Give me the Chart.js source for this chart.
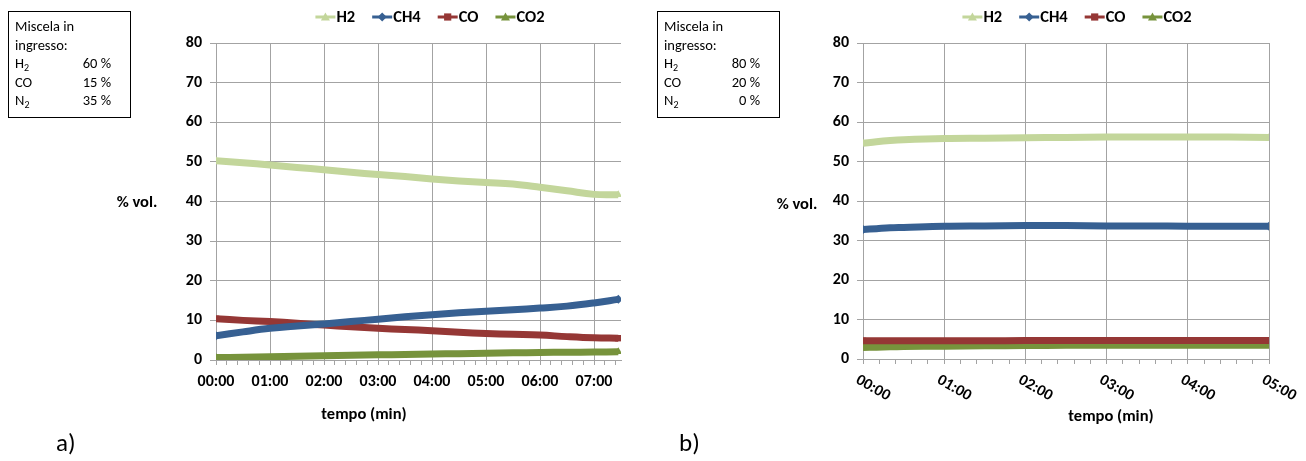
<!DOCTYPE html>
<html><head><meta charset="utf-8">
<script src="https://cdn.jsdelivr.net/npm/chart.js@4.4.1/dist/chart.umd.min.js"></script>
<style>
html,body{margin:0;padding:0;background:#fff;width:1306px;height:461px;overflow:hidden;}
body{position:relative;font-family:Carlito,Lato,sans-serif;color:#000;}
#ca{position:absolute;left:0;top:0;}
#cb{position:absolute;left:650px;top:0;}
.box{position:absolute;top:11px;width:121px;height:105px;border:1px solid #000;font-size:14.5px;line-height:18.5px;}
.box .in{position:absolute;left:6px;top:5px;right:0;}
.row{position:relative;height:18.5px;white-space:nowrap;}
.row .v{position:absolute;right:19px;top:0;}
sub{font-size:10px;vertical-align:-3px;line-height:0;}
.lab{position:absolute;top:428px;font-size:25px;line-height:30px;}
</style></head>
<body>
<canvas id="ca" width="650" height="461"></canvas>
<canvas id="cb" width="656" height="461"></canvas>
<div class="box" style="left:8px"><div class="in">
<div class="row">Miscela in</div>
<div class="row">ingresso:</div>
<div class="row">H<sub>2</sub><span class="v">60 %</span></div>
<div class="row">CO<span class="v">15 %</span></div>
<div class="row">N<sub>2</sub><span class="v">35 %</span></div>
</div></div>
<div class="box" style="left:657px"><div class="in">
<div class="row">Miscela in</div>
<div class="row">ingresso:</div>
<div class="row">H<sub>2</sub><span class="v">80 %</span></div>
<div class="row">CO<span class="v">20 %</span></div>
<div class="row">N<sub>2</sub><span class="v">0 %</span></div>
</div></div>
<div class="lab" style="left:56px">a)</div>
<div class="lab" style="left:679px">b)</div>
<script>
// ---- data (time in seconds) ----
const seriesNames = ['H2','CH4','CO','CO2'];
const tickLabelsA = ['00:00','01:00','02:00','03:00','04:00','05:00','06:00','07:00'];
const tickLabelsB = ['00:00','01:00','02:00','03:00','04:00','05:00'];
const timeA = [0,30,60,90,120,150,180,210,240,270,300,330,360,390,420,447];
const h2A  = [50.3,49.8,49.2,48.6,48.0,47.4,46.8,46.3,45.7,45.2,44.8,44.4,43.6,42.7,41.8,41.7];
const ch4A = [6.1,7.1,8.0,8.6,9.1,9.7,10.3,10.9,11.4,11.9,12.3,12.7,13.1,13.6,14.4,15.3];
const coA  = [10.4,10.0,9.7,9.3,8.8,8.4,8.0,7.7,7.4,7.0,6.7,6.5,6.3,5.9,5.6,5.5];
const co2A = [0.6,0.7,0.8,0.95,1.1,1.2,1.3,1.4,1.5,1.6,1.7,1.8,1.9,1.95,2.0,2.1];
const timeB = [0,10,20,30,60,90,120,150,180,210,240,270,300];
const h2B  = [54.6,55.0,55.3,55.5,55.8,55.9,56.0,56.1,56.2,56.2,56.2,56.2,56.1];
const ch4B = [32.8,33.0,33.2,33.3,33.6,33.7,33.8,33.8,33.7,33.7,33.6,33.6,33.6];
const coB  = [4.6,4.6,4.6,4.6,4.6,4.6,4.7,4.7,4.7,4.7,4.7,4.7,4.7];
const co2B = [2.9,3.0,3.1,3.15,3.25,3.35,3.4,3.45,3.5,3.5,3.5,3.5,3.5];

const COLORS = ['#C3D69B','#376092','#953735','#77933C'];
const MARKERS = ['triangle','rectRot','rect','triangle'];
const GRID = '#a3a3a3';
const FONT = 'Carlito, Lato, sans-serif';
const BOLD = {family:FONT, size:16, weight:'bold'};

function makeDatasets(time, arrs){
  return arrs.map((arr,i)=>({
    label: seriesNames[i],
    data: time.map((t,k)=>({x:t,y:arr[k]})),
    borderColor: COLORS[i],
    backgroundColor: COLORS[i],
    borderWidth: 7,
    tension: 0.4,
    pointStyle: MARKERS[i],
    pointRadius: c => (c.dataIndex===0 || c.dataIndex===time.length-1) ? 4.5 : 0,
    pointBorderWidth: 0,
    pointBackgroundColor: COLORS[i],
    pointHoverRadius: 0
  }));
}

function drawMarker(ctx, style, x, y, r){
  ctx.beginPath();
  if(style==='triangle'){
    ctx.moveTo(x, y-r); ctx.lineTo(x+r, y+r*0.75); ctx.lineTo(x-r, y+r*0.75);
  } else if(style==='rectRot'){
    ctx.moveTo(x, y-r); ctx.lineTo(x+r, y); ctx.lineTo(x, y+r); ctx.lineTo(x-r, y);
  } else {
    ctx.rect(x-r*0.8, y-r*0.8, r*1.6, r*1.6);
  }
  ctx.closePath(); ctx.fill();
}

const deco = {
  id:'deco',
  afterDraw(chart, args, o){
    const ctx = chart.ctx, xs = chart.scales.x;
    ctx.save();
    ctx.fillStyle = '#000';
    ctx.font = 'bold 16.5px '+FONT;
    ctx.textAlign = 'center'; ctx.textBaseline = 'middle';
    ctx.fillText(o.yTitle, o.yTitleX, o.yTitleY);
    ctx.fillText(o.xTitle, o.xTitleX, o.xTitleY);
    if(o.rotLabels){
      ctx.font = 'bold 16px '+FONT;
      ctx.textAlign = 'left'; ctx.textBaseline = 'top';
      o.rotLabels.forEach((lab,i)=>{
        const x = xs.getPixelForValue(i*60);
        ctx.save();
        ctx.translate(x-2, xs.top + o.rotOffset);
        ctx.rotate(o.rotAngle*Math.PI/180);
        ctx.fillText(lab, 0, 0);
        ctx.restore();
      });
    }
    // legend
    ctx.font = 'bold 16.5px '+FONT;
    const ds = chart.data.datasets;
    ctx.textAlign = 'left'; ctx.textBaseline = 'middle';
    const widths = ds.map(d => 21 + ctx.measureText(d.label).width);
    const gap = 17;
    const total = widths.reduce((a,b)=>a+b,0) + gap*(ds.length-1);
    let x = o.legendCX - total/2;
    const y = o.legendY;
    ds.forEach((d,i)=>{
      ctx.strokeStyle = d.borderColor; ctx.lineWidth = 3;
      ctx.beginPath(); ctx.moveTo(x, y); ctx.lineTo(x+20, y); ctx.stroke();
      ctx.fillStyle = d.borderColor;
      drawMarker(ctx, d.pointStyle, x+10, y, 4.5);
      ctx.fillStyle = '#000';
      ctx.fillText(d.label, x+21, y+1);
      x += widths[i] + gap;
    });
    ctx.restore();
  }
};

function makeChart(id, time, arrs, xmax, labels, rotated, pad, yW, xH, decoOpts){
  return new Chart(document.getElementById(id), {
    type:'line',
    data:{ datasets: makeDatasets(time, arrs) },
    options:{
      responsive:false, animation:false, devicePixelRatio:1,
      layout:{ padding: pad },
      plugins:{ legend:{display:false}, tooltip:{enabled:false}, deco: decoOpts },
      scales:{
        x:{
          type:'linear', min:0, max:xmax,
          afterFit: s => { s.height = xH; },
          border:{ color: GRID, width:1 },
          grid:{
            color: c => (c.tick && c.tick.value % 60 === 0) ? GRID : 'rgba(0,0,0,0)',
            tickColor: GRID, tickLength:5, lineWidth:1
          },
          ticks:{
            stepSize:12, includeBounds:false, autoSkip:false, maxRotation:0, minRotation:0,
            padding:7, color:'#000', font: BOLD,
            callback: v => rotated ? '' : (v % 60 === 0 ? labels[v/60] : '')
          }
        },
        y:{
          min:0, max:80,
          afterFit: s => { s.width = yW; },
          border:{ color: GRID, width:1 },
          grid:{ color: GRID, tickLength:6, lineWidth:1 },
          ticks:{ stepSize:10, padding:8, color:'#000', font: BOLD }
        }
      }
    },
    plugins:[deco]
  });
}

makeChart('ca', timeA, [h2A,ch4A,coA,co2A], 450, tickLabelsA, false,
  {left:150, right:29, top:43, bottom:0}, 66, 101,
  {yTitle:'% vol.', yTitleX:137, yTitleY:203, xTitle:'tempo (min)', xTitleX:364, xTitleY:415, legendCX:430, legendY:17});
makeChart('cb', timeB, [h2B,ch4B,coB,co2B], 300, tickLabelsB, true,
  {left:150, right:37, top:43, bottom:0}, 63, 102,
  {yTitle:'% vol.', yTitleX:147, yTitleY:205, xTitle:'tempo (min)', xTitleX:461, xTitleY:417, legendCX:427, legendY:17,
   rotLabels: tickLabelsB, rotOffset:13, rotAngle:30});
</script>
</body></html>
